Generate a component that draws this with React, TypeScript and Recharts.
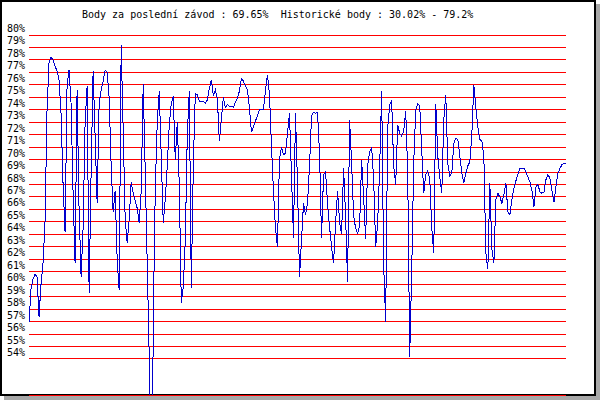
import { LineChart, Line, XAxis, YAxis, CartesianGrid } from 'recharts'

const title = 'Body za poslední závod : 69.65%  Historické body : 30.02% - 79.2%'

// points per race (%)
const scores = [
  56.9, 59.6, 60.4, 60.8, 60.6, 57.4, 60.0, 61.7, 65.0, 74.0, 77.8, 78.2, 78.0, 77.5, 77.1, 76.4,
  73.7, 68.0, 64.2, 76.0, 77.2, 74.5, 67.3, 61.7, 75.6, 66.0, 60.6, 64.5, 73.0, 75.9, 59.3, 69.0,
  77.1, 71.9, 66.5, 74.5, 75.6, 76.3, 77.2, 77.0, 75.0, 69.5, 65.8, 67.5, 62.0, 59.5, 79.2, 72.4,
  65.2, 63.3, 65.2, 68.2, 67.3, 66.7, 66.1, 64.9, 67.5, 76.1, 69.1, 61.7, 54.2, 30.02, 57.0, 67.5,
  73.0, 75.5, 70.3, 64.9, 66.8, 69.5, 72.8, 74.5, 75.1, 70.0, 73.0, 68.0, 58.5, 59.8, 63.5, 72.0,
  75.5, 59.7, 69.5, 75.3, 75.2, 74.7, 74.7, 74.7, 74.5, 74.8, 75.7, 76.4, 75.1, 75.6, 74.9, 71.5,
  73.2, 75.0, 74.2, 74.4, 74.3, 74.3, 74.2, 74.6, 74.9, 75.5, 76.5, 76.3, 75.9, 75.6, 74.2, 72.2,
  72.6, 73.1, 73.5, 74.0, 74.0, 74.0, 75.5, 76.8, 75.3, 71.2, 67.5, 64.5, 63.0, 70.0, 71.0, 70.4,
  70.5, 72.1, 73.7, 68.7, 63.7, 73.7, 68.0, 60.6, 63.5, 66.5, 65.6, 66.5, 69.5, 73.5, 73.8, 73.7,
  73.8, 70.5, 63.7, 68.8, 69.0, 66.5, 64.6, 63.0, 61.7, 64.9, 67.5, 65.0, 64.0, 69.3, 65.5, 60.2,
  73.2, 69.7, 65.5, 64.5, 64.1, 64.7, 70.0, 67.0, 63.6, 69.5, 70.6, 71.0, 68.5, 63.0, 64.9, 69.3,
  75.5, 61.5, 57.0, 72.5, 74.4, 74.7, 69.5, 68.0, 72.8, 72.1, 71.9, 72.3, 73.9, 69.0, 54.2, 61.0,
  69.7, 74.0, 74.5, 74.3, 70.8, 67.3, 68.8, 69.1, 68.5, 64.5, 62.5, 74.5, 70.3, 68.6, 67.3, 73.2,
  75.2, 69.7, 68.7, 68.9, 71.3, 71.7, 71.6, 70.3, 68.9, 68.1, 68.9, 69.5, 69.8, 72.0, 76.0, 74.2,
  72.6, 71.6, 71.5, 70.3, 62.5, 61.2, 68.1, 62.8, 61.7, 66.8, 67.3, 67.0, 66.5, 67.2, 68.1, 65.8,
  65.6, 66.8, 67.7, 68.3, 68.8, 69.3, 69.3, 69.3, 69.0, 68.6, 68.2, 67.5, 66.2, 67.8, 68.0, 67.4,
  67.3, 67.4, 68.4, 68.8, 68.5, 67.5, 66.6, 67.9, 68.9, 69.3, 69.6, 69.7, 69.65,
]

const yTicks = [54, 55, 56, 57, 58, 59, 60, 61, 62, 63, 64, 65, 66, 67, 68, 69, 70, 71, 72, 73, 74, 75, 76, 77, 78, 79, 80]

const data = scores.map((v, i) => ({ race: i + 1, score: v }))

const font = '"DejaVu Sans Mono", monospace'

function PctTick({ y, payload }: any) {
  return (
    <text x={7} y={y - 3} fontSize={10} fontFamily={font} fill="#000" textAnchor="start">
      {payload.value}%
    </text>
  )
}

export default function App() {
  return (
    <div style={{ position: 'absolute', left: 0, top: 0, width: 600, height: 400, background: '#fff' }}>
      <div
        style={{
          position: 'absolute',
          left: 0,
          top: 0,
          width: 592,
          height: 392,
          border: '2px solid #000',
          boxShadow: '4px 4px 0 #a8a8a8',
        }}
      />
      <div
        style={{
          position: 'absolute',
          left: 82,
          top: 9,
          fontFamily: font,
          fontSize: 10,
          lineHeight: '12px',
          whiteSpace: 'pre',
          color: '#000',
        }}
      >
        {title}
      </div>
      <div style={{ position: 'absolute', left: 0, top: 0 }}>
        <LineChart width={600} height={400} data={data} margin={{ top: 35, right: 34, bottom: 5, left: 0 }}>
          <CartesianGrid vertical={false} stroke="#ff0000" strokeDasharray="" shapeRendering="crispEdges" />
          <XAxis dataKey="race" hide />
          <YAxis
            domain={[51.11, 80]}
            ticks={yTicks}
            allowDataOverflow
            axisLine={false}
            tickLine={false}
            width={29}
            tick={<PctTick />}
            interval={0}
          />
          <Line
            type="linear"
            dataKey="score"
            stroke="#0000cc"
            strokeWidth={1}
            dot={false}
            isAnimationActive={false}
            shapeRendering="crispEdges"
          />
        </LineChart>
      </div>
    </div>
  )
}
